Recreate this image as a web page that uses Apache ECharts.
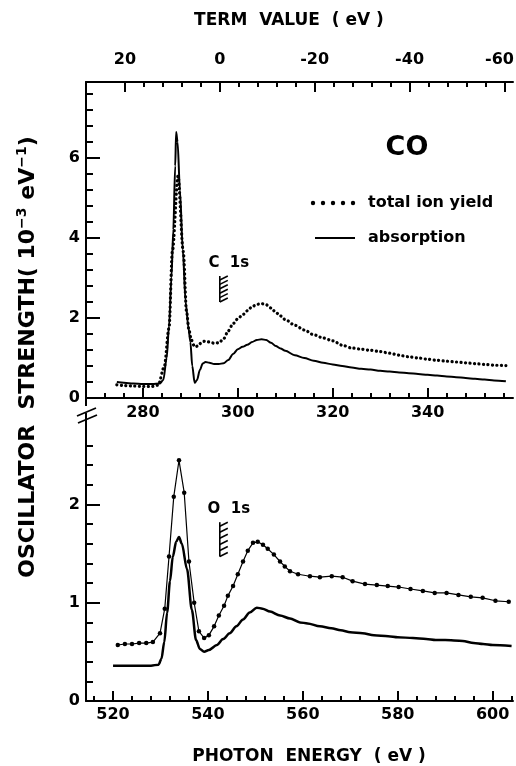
<!DOCTYPE html>
<html>
<head>
<meta charset="utf-8">
<title>CO oscillator strength</title>
<script src="https://cdn.jsdelivr.net/npm/echarts@6.0.0/dist/echarts.min.js"></script>
<style>
html, body { margin: 0; padding: 0; background: #fff; }
#main { width: 516px; height: 766px; }
</style>
</head>
<body>
<div id="main"></div>
<script>
// C 1s region (top panel), photon energy in eV, oscillator strength in 1e-3 /eV
var cAbsEnergy = [274.5, 276, 278, 280, 282, 283.5, 284.3, 285, 285.5, 286, 286.4, 286.8, 287, 287.3, 287.8, 288.4, 289, 289.6, 290, 290.4, 290.9, 291.4, 292, 292.6, 293.2, 294, 295, 296, 297, 298, 299, 300, 301, 302, 303, 304, 305, 306, 307, 308, 309, 310, 312, 314, 316, 318, 320, 322, 324, 326, 328, 330, 332, 334, 336, 338, 340, 342, 344, 346, 348, 350, 352, 354, 356.5];
var cAbsValue  = [0.40, 0.38, 0.36, 0.35, 0.35, 0.36, 0.45, 1.0, 1.8, 3.0, 4.2, 5.8, 6.65, 6.4, 5.2, 3.7, 2.4, 1.75, 1.4, 0.8, 0.38, 0.45, 0.7, 0.86, 0.9, 0.88, 0.85, 0.85, 0.87, 0.95, 1.1, 1.22, 1.28, 1.33, 1.40, 1.45, 1.47, 1.45, 1.38, 1.30, 1.24, 1.18, 1.07, 1.00, 0.93, 0.88, 0.84, 0.80, 0.76, 0.73, 0.71, 0.68, 0.66, 0.64, 0.62, 0.60, 0.58, 0.56, 0.54, 0.52, 0.50, 0.48, 0.46, 0.44, 0.42];

var cIonEnergy = [274.5, 276, 278, 280, 282, 283.2, 284.5, 285.5, 286.2, 287.4, 288.5, 289.2, 289.7, 290.2, 290.9, 291.6, 292.3, 293, 294, 295, 296, 297, 298, 299, 300, 301, 302, 303, 304, 305, 306, 307, 308, 309, 310, 312, 314, 316, 318, 320, 322, 324, 326, 328, 330, 332, 334, 336, 338, 340, 342, 344, 346, 348, 350, 352, 354, 356.5];
var cIonValue  = [0.33, 0.31, 0.30, 0.29, 0.29, 0.32, 0.78, 1.75, 3.66, 5.55, 3.66, 2.15, 1.7, 1.45, 1.28, 1.30, 1.38, 1.42, 1.40, 1.37, 1.38, 1.48, 1.68, 1.86, 1.98, 2.08, 2.18, 2.28, 2.34, 2.36, 2.33, 2.25, 2.14, 2.05, 1.96, 1.82, 1.70, 1.58, 1.50, 1.43, 1.32, 1.25, 1.22, 1.19, 1.16, 1.12, 1.07, 1.03, 1.00, 0.97, 0.94, 0.92, 0.90, 0.88, 0.86, 0.84, 0.82, 0.81];

// O 1s region (bottom panel)
var oAbsEnergy = [520, 522, 524, 526, 528, 529.6, 530.2, 530.8, 531.4, 532, 532.6, 533.3, 533.9, 534.5, 535.6, 536.6, 537.5, 538.3, 539.2, 540.2, 541.9, 543.2, 544.6, 546, 547.4, 548.8, 550.3, 551.5, 553.1, 555.2, 557.3, 559.4, 561, 563.6, 566, 568, 570, 572.6, 575, 578, 580, 583.2, 586, 588, 590, 593.7, 596, 598, 600, 604];
var oAbsValue  = [0.36, 0.36, 0.36, 0.36, 0.36, 0.37, 0.43, 0.6, 0.9, 1.22, 1.47, 1.62, 1.67, 1.6, 1.34, 0.93, 0.62, 0.53, 0.50, 0.52, 0.57, 0.63, 0.69, 0.76, 0.83, 0.90, 0.95, 0.94, 0.91, 0.87, 0.84, 0.80, 0.79, 0.76, 0.74, 0.72, 0.70, 0.69, 0.67, 0.66, 0.65, 0.64, 0.63, 0.62, 0.62, 0.61, 0.59, 0.58, 0.57, 0.56];

var oIonEnergy = [521, 522.5, 524, 525.5, 527, 528.4, 529.9, 530.9, 531.8, 532.8, 533.9, 535, 536, 537.1, 538.1, 539.2, 540.2, 541.3, 542.3, 543.4, 544.2, 545.3, 546.3, 547.4, 548.4, 549.5, 550.5, 551.6, 552.6, 553.9, 555.2, 556.2, 557.3, 559, 561.5, 563.6, 566.1, 568.4, 570.5, 573.1, 575.6, 577.9, 580.2, 582.7, 585.3, 587.8, 590.3, 592.8, 595.4, 597.9, 600.6, 603.4];
var oIonValue  = [0.57, 0.58, 0.58, 0.59, 0.59, 0.60, 0.69, 0.94, 1.47, 2.08, 2.45, 2.12, 1.42, 1.00, 0.71, 0.64, 0.67, 0.76, 0.87, 0.97, 1.07, 1.17, 1.29, 1.42, 1.53, 1.61, 1.62, 1.59, 1.55, 1.49, 1.42, 1.37, 1.32, 1.29, 1.27, 1.26, 1.27, 1.26, 1.22, 1.19, 1.18, 1.17, 1.16, 1.14, 1.12, 1.10, 1.10, 1.08, 1.06, 1.05, 1.02, 1.01];

// ionization potentials (term value 0)
var cIP = 296.2;
var oIP = 542.5;

// tick values / labels
var cEnergyMinor = [272, 276, 280, 284, 288, 292, 296, 300, 304, 308, 312, 316, 320, 324, 328, 332, 336, 340, 344, 348, 352, 356];
var cEnergyMajor = [280, 300, 320, 340];
var oEnergyMinor = [516, 520, 524, 528, 532, 536, 540, 544, 548, 552, 556, 560, 564, 568, 572, 576, 580, 584, 588, 592, 596, 600, 604];
var oEnergyMajor = [520, 540, 560, 580, 600];
var termMinor = [20, 16, 12, 8, 4, 0, -4, -8, -12, -16, -20, -24, -28, -32, -36, -40, -44, -48, -52, -56, -60];
var termMajor = [20, 0, -20, -40, -60];
var cYMinor = [0.4, 0.8, 1.2, 1.6, 2, 2.4, 2.8, 3.2, 3.6, 4, 4.4, 4.8, 5.2, 5.6, 6, 6.4, 6.8, 7.2, 7.6];
var cYMajor = [0, 2, 4, 6];
var oYMinor = [0.2, 0.4, 0.6, 0.8, 1, 1.2, 1.4, 1.6, 1.8, 2, 2.2, 2.4, 2.6];
var oYMajor = [0, 1, 2];

var eMin = 268, eMax = 358;          // top panel energy range
var oMin = eMin + (oIP - cIP), oMax = eMax + (oIP - cIP);

var FONT = '"DejaVu Sans", "Liberation Sans", Arial, sans-serif';
var myChart = echarts.init(document.getElementById('main'));

function pairs(xs, ys) {
	var out = [];
	for (var i = 0; i < xs.length; i++) out.push([xs[i], ys[i]]);
	return out;
}

function axis(gridIndex, min, max, position, showLine) {
	return {
		type : 'value',
		gridIndex : gridIndex,
		min : min,
		max : max,
		position : position,
		axisLine : { show : showLine, onZero : false, lineStyle : { color : '#000', width : 2 } },
		splitLine : { show : false },
		axisTick : { show : false },
		axisLabel : { show : false }
	};
}
function ticks(ax, values, len) {
	ax.axisTick = { show : true, inside : true, length : len, customValues : values,
		lineStyle : { color : '#000', width : 2 } };
	return ax;
}
function labels(ax, values, margin) {
	ax.axisLabel = { show : true, customValues : values, margin : margin, color : '#000',
		fontFamily : FONT, fontWeight : 'bold', fontSize : 16 };
	return ax;
}

var xTop = labels(ticks(axis(0, eMin, eMax, 'bottom', true), cEnergyMajor, 10), cEnergyMajor, 7);
var xTopMinor = ticks(axis(0, eMin, eMax, 'bottom', false), cEnergyMinor, 5);
var termAx = axis(0, cIP - eMax, cIP - eMin, 'top', true);
termAx.inverse = true;
termAx = labels(ticks(termAx, termMajor, 10), termMajor, 14);
// the last label sits at the right edge, nudge it left a little
termAx.axisLabel.formatter = function (v) { return v === -60 ? '{r|-60}' : String(v); };
termAx.axisLabel.rich = { r : { fontFamily : FONT, fontWeight : 'bold', fontSize : 16, color : '#000', padding : [0, 10, 0, 0] } };
var termAxMinor = axis(0, cIP - eMax, cIP - eMin, 'top', false);
termAxMinor.inverse = true;
termAxMinor = ticks(termAxMinor, termMinor, 5);
var xBot = labels(ticks(axis(1, oMin, oMax, 'bottom', true), oEnergyMajor, 10), oEnergyMajor, 6);
var xBotMinor = ticks(axis(1, oMin, oMax, 'bottom', false), oEnergyMinor, 5);

var yTop = labels(ticks(axis(0, 0, 7.9, 'left', true), cYMajor, 14), cYMajor, 6);
var yTopMinor = ticks(axis(0, 0, 7.9, 'left', false), cYMinor, 7);
var yBot = labels(ticks(axis(1, 0, 2.86, 'left', true), oYMajor, 14), oYMajor, 6);
var yBotMinor = ticks(axis(1, 0, 2.86, 'left', false), oYMinor, 7);

var black = '#000';
option = {
	backgroundColor : '#fff',
	animation : false,
	grid : [
		{ left : 86, top : 82, width : 427, height : 316, outerBoundsMode : 'none' },
		{ left : 86, top : 420, width : 427, height : 281, outerBoundsMode : 'none' }
	],
	xAxis : [ xTop, xTopMinor, termAx, termAxMinor, xBot, xBotMinor ],
	yAxis : [ yTop, yTopMinor, yBot, yBotMinor ],
	series : [ {
		name : 'absorption C',
		type : 'line',
		xAxisIndex : 0, yAxisIndex : 0,
		data : pairs(cAbsEnergy, cAbsValue),
		smooth : 0.3, smoothMonotone : 'x',
		showSymbol : false,
		lineStyle : { color : black, width : 2 }
	}, {
		name : 'total ion yield C',
		type : 'line',
		xAxisIndex : 0, yAxisIndex : 0,
		data : pairs(cIonEnergy, cIonValue),
		smooth : 0.3, smoothMonotone : 'x',
		showSymbol : false,
		lineStyle : { color : black, width : 3.2, type : [0.1, 4.4], cap : 'round' }
	}, {
		name : 'absorption O',
		type : 'line',
		xAxisIndex : 4, yAxisIndex : 2,
		data : pairs(oAbsEnergy, oAbsValue),
		smooth : 0.3, smoothMonotone : 'x',
		showSymbol : false,
		lineStyle : { color : black, width : 2.5 }
	}, {
		name : 'total ion yield O',
		type : 'line',
		xAxisIndex : 4, yAxisIndex : 2,
		data : pairs(oIonEnergy, oIonValue),
		symbol : 'circle', symbolSize : 4.5, showAllSymbol : true,
		itemStyle : { color : black },
		lineStyle : { color : black, width : 1.2 }
	} ]
};
myChart.setOption(option, true);

// annotations
function txt(x, y, s, size, align, rot) {
	return { type : 'text', x : x, y : y, rotation : rot || 0,
		style : { text : s, fill : black, font : 'bold ' + size + 'px ' + FONT,
			align : align || 'center', verticalAlign : 'middle' } };
}
function seg(x1, y1, x2, y2, w) {
	return { type : 'line', shape : { x1 : x1, y1 : y1, x2 : x2, y2 : y2 },
		style : { stroke : black, lineWidth : w || 1.6 } };
}
function ipMarker(ax, ay, vTop, vBot, ip, label) {
	var p1 = myChart.convertToPixel({ xAxisIndex : ax, yAxisIndex : ay }, [ip, vTop]);
	var p2 = myChart.convertToPixel({ xAxisIndex : ax, yAxisIndex : ay }, [ip, vBot]);
	var els = [seg(p1[0], p1[1], p2[0], p2[1])];
	var n = 6, step = (p2[1] - p1[1] - 4) / (n - 1);
	for (var i = 0; i < n; i++) {
		var y = p1[1] + 4 + i * step;
		els.push(seg(p1[0], y, p1[0] + 8, y - 4));
	}
	els.push(txt(p1[0] + 9, p1[1] - 13, label, 15));
	return els;
}

var g = [];
g.push(txt(289, 21, 'TERM  VALUE  ( eV )', 17));
g.push(txt(309, 757, 'PHOTON  ENERGY  ( eV )', 17));
g.push({ type : 'text', x : 28, y : 357, rotation : Math.PI / 2,
	style : { text : 'OSCILLATOR  STRENGTH( 10{s|−3} eV{s|−1})', fill : black,
		font : 'bold 22px ' + FONT, align : 'center', verticalAlign : 'middle',
		rich : { s : { fontSize : 14, fontWeight : 'bold', fontFamily : FONT, verticalAlign : 'top', lineHeight : 26, padding : [0, 0, 10, 0] } } } });
g.push(txt(407, 148, 'CO', 27));
// legend
for (var k = 0; k < 5; k++) {
	g.push({ type : 'circle', shape : { cx : 313 + k * 10, cy : 203, r : 2.2 }, style : { fill : black } });
}
g.push(txt(368, 203, 'total ion yield', 16, 'left'));
g.push(seg(315, 238, 355, 238, 2));
g.push(txt(368, 238, 'absorption', 16, 'left'));
// axis break
g.push(seg(86, 398, 86, 406, 2));
g.push(seg(86, 413, 86, 420, 2));
g.push(seg(77, 416, 96, 408, 1.8));
g.push(seg(78, 423, 97, 415, 1.8));
g = g.concat(ipMarker(0, 0, 3.05, 2.4, cIP, 'C  1s'));
g = g.concat(ipMarker(4, 2, 1.82, 1.47, oIP, 'O  1s'));
myChart.setOption({ graphic : g });
</script>
</body>
</html>
